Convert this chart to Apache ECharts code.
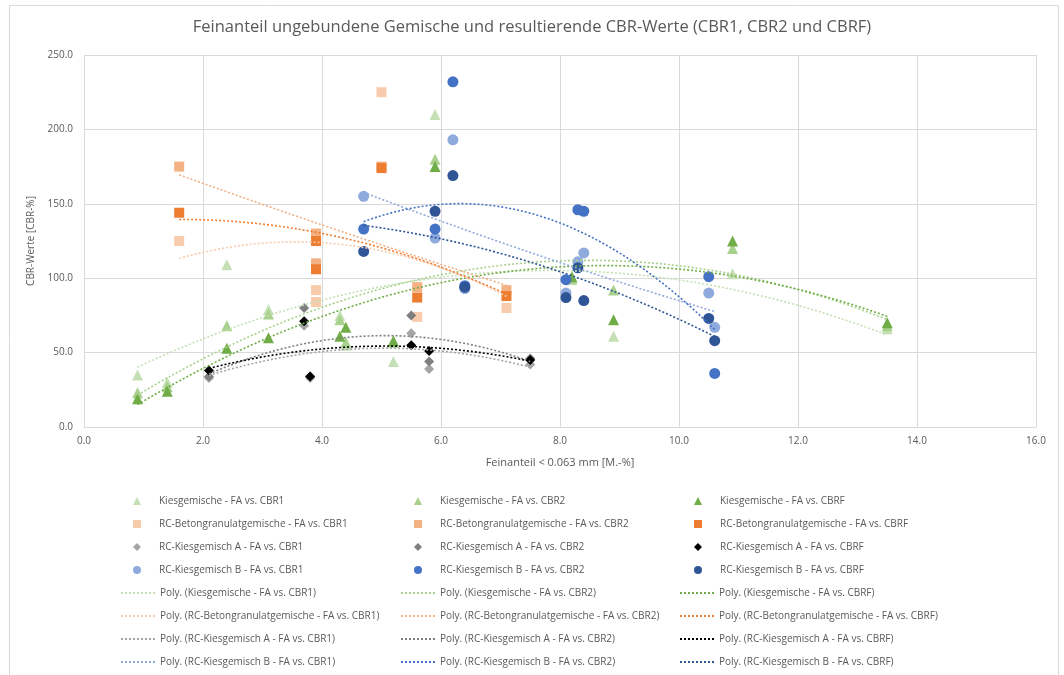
<!DOCTYPE html>
<html>
<head>
<meta charset="utf-8">
<script src="https://cdn.jsdelivr.net/npm/echarts@6/dist/echarts.min.js"></script>
<style>html,body{margin:0;padding:0;background:#fff}#c{width:1064px;height:675px}</style>
</head>
<body>
<div id="c"></div>
<script>
// ---- data ----
const kiesX = [0.9, 1.4, 2.4, 3.1, 4.3, 4.4, 5.2, 5.9, 8.2, 8.9, 10.9, 13.5];
const kiesCBR1 = [35, 30, 109, 79, 75, 55, 44, 210, 99, 61, 103, 66];
const kiesCBR2 = [23, 27, 68, 76, 72, 57, 57, 180, 100, 92, 120, 68];
const kiesCBRF = [19, 24, 53, 60, 61, 67, 58, 175, 101, 72, 125, 70];

const betonX = [1.6, 3.9, 3.9, 5.0, 5.6, 7.1];
const betonCBR1 = [125, 92, 84, 225, 74, 80];
const betonCBR2 = [175, 130, 110, 175, 94, 92];
const betonCBRF = [144, 125, 106, 174, 87, 88];

const rcaX = [2.1, 3.7, 3.8, 5.5, 5.8, 7.5];
const rcaCBR1 = [33, 68, 33, 63, 39, 42];
const rcaCBR2 = [34, 80, 34, 75, 44, 46];
const rcaCBRF = [38, 71, 34, 55, 51, 45];

const rcbX = [4.7, 5.9, 6.2, 6.4, 8.1, 8.3, 8.4, 10.5, 10.6];
const rcbCBR1 = [155, 127, 193, 93, 90, 111, 117, 90, 67];
const rcbCBR2 = [133, 133, 232, 95, 99, 146, 145, 101, 36];
const rcbCBRF = [118, 145, 169, 94, 87, 107, 85, 73, 58];

const xTicks = ['0.0','2.0','4.0','6.0','8.0','10.0','12.0','14.0','16.0'];

// ---- build ----
const groups = [
  {name:'Kiesgemische', x:kiesX, ys:[kiesCBR1,kiesCBR2,kiesCBRF], symbol:'triangle', colors:['#C5E0B4','#A9D18E','#70AD47'], size:11},
  {name:'RC-Betongranulatgemische', x:betonX, ys:[betonCBR1,betonCBR2,betonCBRF], symbol:'rect', colors:['#F8CBAD','#F4B183','#ED7D31'], size:10},
  {name:'RC-Kiesgemisch A', x:rcaX, ys:[rcaCBR1,rcaCBR2,rcaCBRF], symbol:'diamond', colors:['#A5A5A5','#7F7F7F','#000000'], size:10},
  {name:'RC-Kiesgemisch B', x:rcbX, ys:[rcbCBR1,rcbCBR2,rcbCBRF], symbol:'circle', colors:['#8FAADC','#4472C4','#2F5597'], size:11}
];
const kinds = ['CBR1','CBR2','CBRF'];

function quadFit(xs, ys){
  let n=xs.length, s=[0,0,0,0,0], t=[0,0,0];
  for(let i=0;i<n;i++){const x=xs[i],y=ys[i];let p=1;for(let k=0;k<5;k++){s[k]+=p;p*=x;} t[0]+=y;t[1]+=y*x;t[2]+=y*x*x;}
  const A=[[s[0],s[1],s[2],t[0]],[s[1],s[2],s[3],t[1]],[s[2],s[3],s[4],t[2]]];
  for(let i=0;i<3;i++){let m=i;for(let r=i+1;r<3;r++) if(Math.abs(A[r][i])>Math.abs(A[m][i])) m=r;[A[i],A[m]]=[A[m],A[i]];
    for(let r=0;r<3;r++){ if(r===i) continue; const f=A[r][i]/A[i][i]; for(let c=i;c<4;c++) A[r][c]-=f*A[i][c]; }}
  return [A[0][3]/A[0][0], A[1][3]/A[1][1], A[2][3]/A[2][2]];
}

const series = [];
const markerCols = [[],[],[]];
const lineCols = [[],[],[]];
groups.forEach(g=>{
  kinds.forEach((k,ki)=>{
    const nm = g.name + ' - FA vs. ' + k;
    series.push({type:'scatter', name:nm, symbol:g.symbol, symbolSize:g.size,
      itemStyle:{color:g.colors[ki], opacity:1}, data:g.x.map((x,i)=>[x,g.ys[ki][i]]), z:3});
    markerCols[ki].push(nm);
  });
});
groups.forEach(g=>{
  kinds.forEach((k,ki)=>{
    const nm = 'Poly. (' + g.name + ' - FA vs. ' + k + ')';
    const c = quadFit(g.x, g.ys[ki]);
    const x0 = Math.min(...g.x), x1 = Math.max(...g.x);
    const pts = [];
    for(let i=0;i<=80;i++){const x=x0+(x1-x0)*i/80; pts.push([x, c[0]+c[1]*x+c[2]*x*x]);}
    series.push({type:'line', name:nm, data:pts, symbol:'none', smooth:false, silent:true,
      lineStyle:{color:g.colors[ki], width:1.6, type:[2,2]},
      itemStyle:{color:'rgba(0,0,0,0)', borderColor:'rgba(0,0,0,0)', borderWidth:0}, z:4});
    lineCols[ki].push(nm);
  });
});

const font = 'Open Sans';
const txt = '#595959';
const base = {orient:'vertical', itemGap:9, itemHeight:8, padding:0, selectedMode:false,
  textStyle:{color:txt, fontSize:10, fontFamily:font, lineHeight:14}};
const markerLeft = [133, 414, 694];
const lineLeft = [120, 400, 679];
const legends = [];
for(let i=0;i<3;i++){
  legends.push(Object.assign({}, base, {left:markerLeft[i], top:494, itemWidth:8, data:markerCols[i],
    textStyle:{color:txt, fontSize:10, fontFamily:font, lineHeight:14, padding:[0,0,0,13]}}));
  legends.push(Object.assign({}, base, {left:lineLeft[i], top:586, itemWidth:34, data:lineCols[i]}));
}

const chart = echarts.init(document.getElementById('c'), null, {renderer:'canvas'});
chart.setOption({
  animation:false,
  backgroundColor:'#fff',
  title:{text:'Feinanteil ungebundene Gemische und resultierende CBR-Werte (CBR1, CBR2 und CBRF)',
    left:'center', top:14, textStyle:{color:txt, fontSize:16.5, fontWeight:'normal', fontFamily:font}},
  graphic:[{type:'rect', left:7, top:3, shape:{width:1049, height:680}, style:{fill:null, stroke:'#D9D9D9', lineWidth:1}, silent:true}],
  grid:{left:84, right:28, top:55, bottom:248, containLabel:false},
  legend:legends,
  xAxis:{type:'value', min:0, max:16, interval:2,
    name:'Feinanteil < 0.063 mm [M.-%]', nameLocation:'middle', nameGap:30,
    nameTextStyle:{color:txt, fontSize:11, fontFamily:font},
    axisLine:{show:true, lineStyle:{color:'#D9D9D9'}}, axisTick:{show:false},
    axisLabel:{color:txt, fontSize:10, fontFamily:font, margin:9, formatter:(v)=>xTicks[Math.round(v/2)]},
    splitLine:{show:true, lineStyle:{color:'#D9D9D9', width:1}}},
  yAxis:{type:'value', min:0, max:250, interval:50,
    name:'CBR-Werte [CBR-%]', nameLocation:'middle', nameGap:46,
    nameTextStyle:{color:txt, fontSize:10, fontFamily:font},
    axisLine:{show:false}, axisTick:{show:false},
    axisLabel:{color:txt, fontSize:10, fontFamily:font, margin:11, formatter:(v)=>v.toFixed(1)},
    splitLine:{show:true, lineStyle:{color:'#D9D9D9', width:1}}},
  series:series
});
</script>
</body>
</html>
